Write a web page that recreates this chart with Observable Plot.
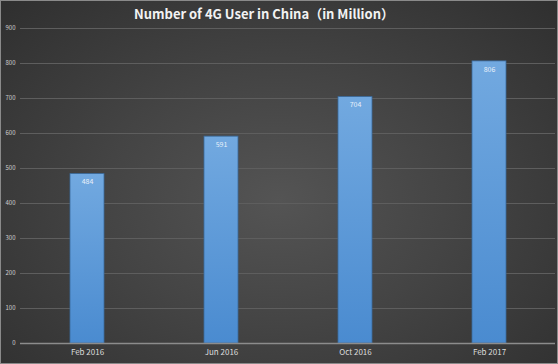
<!DOCTYPE html>
<html>
<head>
<meta charset="utf-8">
<script src="https://cdn.jsdelivr.net/npm/d3@7"></script>
<script src="https://cdn.jsdelivr.net/npm/@observablehq/plot@0.6"></script>
<style>
  html, body { margin: 0; padding: 0; }
  #chart {
    width: 558px; height: 364px; box-sizing: border-box;
    background: radial-gradient(ellipse at 50% 55%, #545454 0%, #444 45%, #2f2f2f 100%);
    border: 1px solid #8a8a8a;
    overflow: hidden;
    font-family: "Noto Sans CJK SC", "Noto Sans", sans-serif;
  }
  #title {
    height: 21px; line-height: 26px; text-align: center;
    color: #f2f2f2; font-weight: bold; font-size: 13px;
    padding-right: 30px;
  }
  svg { overflow: visible; }
</style>
</head>
<body>
<div id="chart"><div id="title">Number of 4G User in China（in Million）</div></div>
<script>
const categories = ["Feb 2016", "Jun 2016", "Oct 2016", "Feb 2017"];
const users = [484, 591, 704, 806];
const yTicks = [0, 100, 200, 300, 400, 500, 600, 700, 800, 900];

const data = categories.map((c, i) => ({period: c, value: users[i]}));

const plot = Plot.plot({
  width: 556,
  height: 341,
  marginTop: 6,
  marginBottom: 20,
  marginLeft: 19,
  marginRight: 2,
  style: {background: "transparent", color: "#d8d8d8", fontFamily: "'Noto Sans CJK SC', 'Noto Sans', sans-serif"},
  x: {domain: categories, paddingInner: 0.747, paddingOuter: 0.365, label: null},
  y: {domain: [0, 900], label: null},
  marks: [
    () => {
      const ns = "http://www.w3.org/2000/svg";
      const defs = document.createElementNS(ns, "defs");
      defs.innerHTML = `<linearGradient id="barGrad" x1="0" y1="0" x2="0" y2="1">
        <stop offset="0" stop-color="#72a9e0"/>
        <stop offset="1" stop-color="#4a8bd0"/>
      </linearGradient>`;
      return defs;
    },
    Plot.ruleY(yTicks.filter(d => d > 0), {stroke: "#5e5e5e", strokeWidth: 1}),
    Plot.axisY({ticks: yTicks, tickSize: 0, tickPadding: 5, fontSize: 6, fill: "#cfcfcf"}),
    Plot.barY(data, {x: "period", y: "value", fill: "url(#barGrad)", stroke: "#3a6a9c", strokeWidth: 0.8}),
    Plot.ruleY([0], {stroke: "#8c8c8c", strokeWidth: 1.5}),
    Plot.axisX({tickSize: 0, tickPadding: 6, fontSize: 8, fill: "#dcdcdc"}),
    Plot.text(data, {x: "period", y: "value", text: d => String(d.value), dy: 8, fontSize: 7, fill: "#e8f0fa"})
  ]
});
document.getElementById("chart").appendChild(plot);
</script>
</body>
</html>
